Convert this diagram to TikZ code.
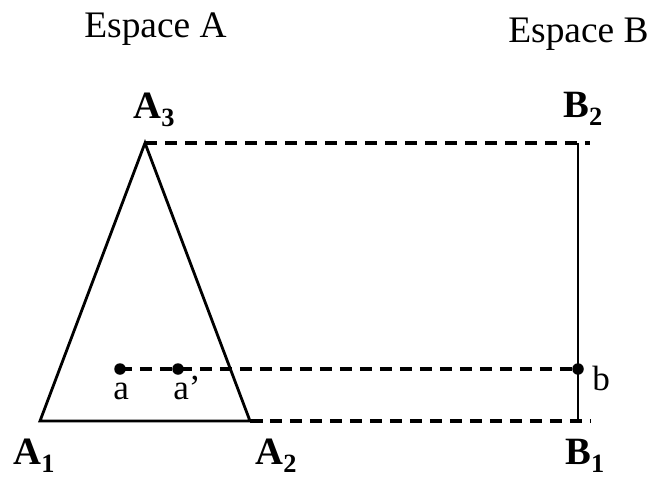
\documentclass[tikz,border=0pt]{standalone}
\usepackage{fontspec}
\setmainfont{Liberation Serif}
\usetikzlibrary{positioning,calc}
\newcommand{\ptlab}[2]{\textbf{#1}\raisebox{-4.6pt}{\fontsize{15}{15}\selectfont\bfseries #2}}
\tikzset{
  edge/.style={line width=1.6pt},
  proj/.style={line width=1.8pt,dash pattern=on 0.25cm off 0.15cm},
  dot/.style={circle,fill=black,inner sep=0pt,minimum size=0.23cm},
  lbl/.style={font=\fontsize{22}{24}\selectfont,inner sep=0pt,anchor=base west},
  tlbl/.style={font=\fontsize{21.3}{24}\selectfont,inner sep=0pt,anchor=base west},
  sml/.style={font=\fontsize{20}{22}\selectfont,inner sep=0pt,anchor=base west},
}
\begin{document}
\begin{tikzpicture}[x=0.02cm,y=-0.02cm]
\useasboundingbox (0,0) rectangle (652,477);
% corners
\coordinate (A1) at (40,421);
\coordinate (A2) at (250,421);
\coordinate (A3) at (145,143);
\coordinate (B1) at (578,421);
\coordinate (B2) at (578,143);
\coordinate (tB1) at (590,421);
\coordinate (tB2) at (590,143);
\node[dot] (a) at (120,369) {};
\node[dot] (ap) at (178,369) {};
\node[dot] (b) at (578,369) {};
% titles
\node[tlbl] (spA) at (84,37) {Espace A};
\node[tlbl] (spB) at (508,42) {Espace B};
% shapes
\draw[edge] (A1) -- (A2) -- (A3) -- cycle;
\draw[edge] (B2) -- (B1);
\draw[proj] (A3) -- (tB2);
\draw[proj] (A2) -- (tB1);
\draw[proj] (a.center) -- (b.center);
% labels
\node[lbl] (lA1) at (13,464) {\ptlab{A}{1}};
\node[lbl] (lA2) at (255,464) {\ptlab{A}{2}};
\node[lbl] (lA3) at (133,118) {\ptlab{A}{3}};
\node[lbl] (lB1) at (565,464) {\ptlab{B}{1}};
\node[lbl] (lB2) at (563,117) {\ptlab{B}{2}};
\node[sml] (la) at (113,399) {a};
\node[sml] (lap) at (173,399) {a'};
\node[sml] (lb) at (592,390) {b};
\end{tikzpicture}
\end{document}
